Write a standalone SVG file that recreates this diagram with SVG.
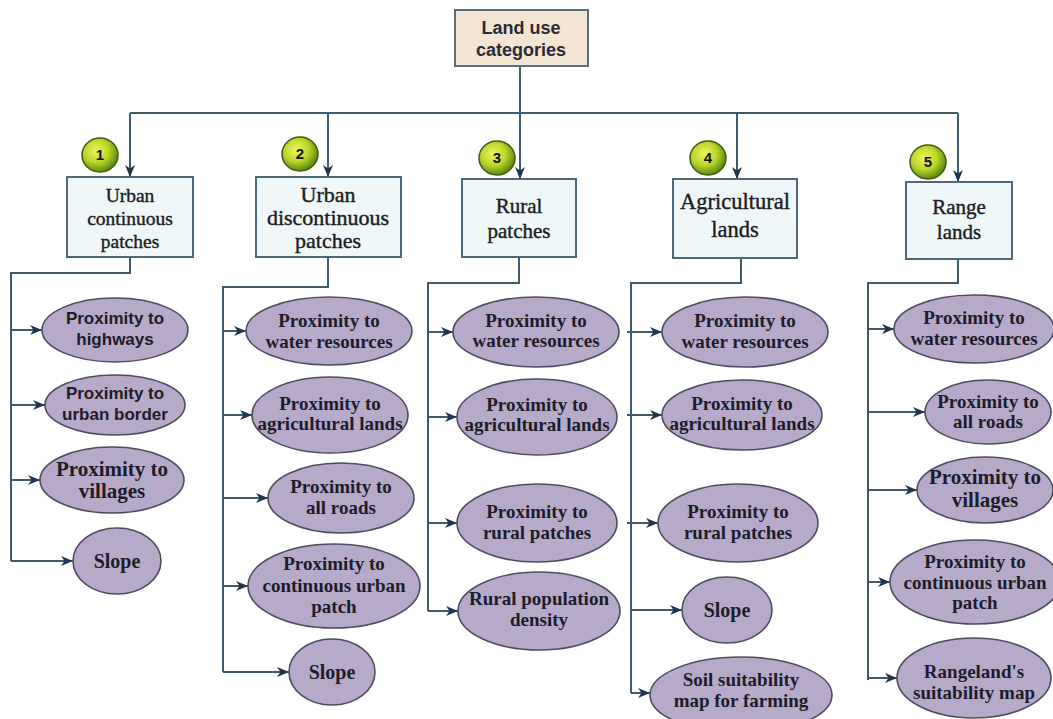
<svg xmlns="http://www.w3.org/2000/svg" width="1053" height="719" viewBox="0 0 1053 719">
<defs>
<marker id="ah" markerUnits="userSpaceOnUse" markerWidth="13" markerHeight="11" refX="12" refY="5" orient="auto">
<path d="M0,0 L12,5 L0,10 L3.5,5 Z" fill="#1e3550"/>
</marker>
<radialGradient id="gb" cx="0.4" cy="0.38" r="0.62">
<stop offset="0" stop-color="#eef55a"/>
<stop offset="0.55" stop-color="#bcd62a"/>
<stop offset="1" stop-color="#5e8a10"/>
</radialGradient>
</defs>
<style>
.box{fill:#eff7f9;stroke:#4e6878;stroke-width:2}
.root{fill:#f3e5d1;stroke:#5d6d7c;stroke-width:2}
.ell{fill:#b7a9c9;stroke:#4d4d60;stroke-width:1.6}
.con{fill:none;stroke:#3e5b6c;stroke-width:2}
.arr{fill:none;stroke:#3e5b6c;stroke-width:2;marker-end:url(#ah)}
.badge{fill:url(#gb);stroke:#3f5e12;stroke-width:1.5}
.bt{font-family:"Liberation Serif",serif;font-size:21px;fill:#1c1c22;stroke:#1c1c22;stroke-width:0.4;text-anchor:middle}
.et{font-family:"Liberation Serif",serif;font-size:19px;font-weight:bold;fill:#1c1c2a;text-anchor:middle}
.st{font-family:"Liberation Sans",Arial,sans-serif;font-size:17px;font-weight:bold;fill:#1c1c2a;text-anchor:middle}
.rt{font-family:"Liberation Sans",Arial,sans-serif;font-size:18px;font-weight:bold;fill:#2a2a3a;text-anchor:middle}
.nt{font-family:"Liberation Sans",Arial,sans-serif;font-size:15px;font-weight:bold;fill:#111;text-anchor:middle}
</style>
<g id="connectors">
<path class="con" d="M520,66 V113 M130,113 H958"/>
<path class="arr" d="M130,113 V177"/>
<path class="arr" d="M328,113 V177"/>
<path class="arr" d="M520,113 V179"/>
<path class="arr" d="M737,113 V179"/>
<path class="arr" d="M958,113 V182"/>
<path class="con" d="M130,257 V273 H11 V561"/>
<path class="arr" d="M11,330 H42"/>
<path class="arr" d="M11,405 H45"/>
<path class="arr" d="M11,480 H40"/>
<path class="arr" d="M11,561 H73"/>
<path class="con" d="M328,257 V287 H223 V672"/>
<path class="arr" d="M223,331 H246"/>
<path class="arr" d="M223,415 H252"/>
<path class="arr" d="M223,498 H268"/>
<path class="arr" d="M223,586 H248"/>
<path class="arr" d="M223,672 H289"/>
<path class="con" d="M519,257 V283 H428 V611"/>
<path class="arr" d="M428,332 H453"/>
<path class="arr" d="M428,417 H457"/>
<path class="arr" d="M428,523 H457"/>
<path class="arr" d="M428,611 H458"/>
<path class="con" d="M741,258 V283 H631 V693"/>
<path class="arr" d="M627,332 H662"/>
<path class="arr" d="M627,415 H662"/>
<path class="arr" d="M627,523 H658"/>
<path class="arr" d="M631,610 H682"/>
<path class="arr" d="M631,693 H650"/>
<path class="con" d="M958,259 V283 H868 V680"/>
<path class="arr" d="M868,329 H894"/>
<path class="arr" d="M868,412 H925"/>
<path class="arr" d="M868,490 H917"/>
<path class="arr" d="M868,582 H890"/>
<path class="arr" d="M868,678 H897"/>
</g>
<g id="root">
<rect class="root" x="455" y="10" width="133" height="56"/>
<text class="rt" x="521" y="34">Land use</text>
<text class="rt" x="521" y="56">categories</text>
</g>
<g id="cat1">
<rect class="box" x="67" y="177" width="126" height="80"/>
<text class="bt" style="font-size:19.5px" x="130" y="202">Urban</text>
<text class="bt" style="font-size:19.5px" x="130" y="225">continuous</text>
<text class="bt" style="font-size:19.5px" x="130" y="248">patches</text>
<ellipse class="badge" cx="100" cy="155" rx="18" ry="17"/>
<text class="nt" x="100" y="160">1</text>
</g>
<g id="cat2">
<rect class="box" x="256" y="177" width="145" height="80"/>
<text class="bt" style="font-size:22px" x="328" y="202">Urban</text>
<text class="bt" style="font-size:22px" x="328" y="225">discontinuous</text>
<text class="bt" style="font-size:22px" x="328" y="248">patches</text>
<ellipse class="badge" cx="300" cy="154" rx="18" ry="17"/>
<text class="nt" x="300" y="159">2</text>
</g>
<g id="cat3">
<rect class="box" x="462" y="179" width="114" height="78"/>
<text class="bt" x="519" y="213">Rural</text>
<text class="bt" x="519" y="238">patches</text>
<ellipse class="badge" cx="497" cy="158" rx="18" ry="17"/>
<text class="nt" x="497" y="163">3</text>
</g>
<g id="cat4">
<rect class="box" x="673" y="179" width="124" height="79"/>
<text class="bt" style="font-size:22.5px" x="735" y="209">Agricultural</text>
<text class="bt" style="font-size:22.5px" x="735" y="237">lands</text>
<ellipse class="badge" cx="708" cy="158" rx="18" ry="17"/>
<text class="nt" x="708" y="163">4</text>
</g>
<g id="cat5">
<rect class="box" x="906" y="182" width="106" height="77"/>
<text class="bt" x="959" y="214">Range</text>
<text class="bt" x="959" y="239">lands</text>
<ellipse class="badge" cx="928" cy="162" rx="18" ry="17"/>
<text class="nt" x="928" y="167">5</text>
</g>
<g id="c1-highways"><ellipse class="ell" cx="115" cy="330" rx="73" ry="32"/><text class="st" x="115" y="324">Proximity to</text><text class="st" x="115" y="345">highways</text></g>
<g id="c1-border"><ellipse class="ell" cx="115" cy="405" rx="70" ry="30"/><text class="st" x="115" y="399">Proximity to</text><text class="st" x="115" y="420">urban border</text></g>
<g id="c1-villages"><ellipse class="ell" cx="112" cy="480" rx="72" ry="33"/><text class="et" style="font-size:21px" x="112" y="476">Proximity to</text><text class="et" style="font-size:21px" x="112" y="498">villages</text></g>
<g id="c1-slope"><ellipse class="ell" cx="117" cy="561" rx="44" ry="33"/><text class="et" style="font-size:20px" x="117" y="568">Slope</text></g>
<g id="c2-water"><ellipse class="ell" cx="329" cy="331" rx="83" ry="34"/><text class="et" x="329" y="327">Proximity to</text><text class="et" x="329" y="348">water resources</text></g>
<g id="c2-agri"><ellipse class="ell" cx="330" cy="415" rx="78" ry="38"/><text class="et" x="330" y="410">Proximity to</text><text class="et" x="330" y="430">agricultural lands</text></g>
<g id="c2-roads"><ellipse class="ell" cx="341" cy="498" rx="73" ry="35"/><text class="et" x="341" y="493">Proximity to</text><text class="et" x="341" y="514">all roads</text></g>
<g id="c2-urban"><ellipse class="ell" cx="334" cy="586" rx="86" ry="42"/><text class="et" x="334" y="570">Proximity to</text><text class="et" x="334" y="592">continuous urban</text><text class="et" x="334" y="613">patch</text></g>
<g id="c2-slope"><ellipse class="ell" cx="332" cy="672" rx="43" ry="33"/><text class="et" style="font-size:20px" x="332" y="679">Slope</text></g>
<g id="c3-water"><ellipse class="ell" cx="536" cy="332" rx="83" ry="35"/><text class="et" x="536" y="327">Proximity to</text><text class="et" x="536" y="347">water resources</text></g>
<g id="c3-agri"><ellipse class="ell" cx="537" cy="417" rx="80" ry="38"/><text class="et" x="537" y="411">Proximity to</text><text class="et" x="537" y="431">agricultural lands</text></g>
<g id="c3-rural"><ellipse class="ell" cx="537" cy="523" rx="80" ry="39"/><text class="et" x="537" y="518">Proximity to</text><text class="et" x="537" y="539">rural patches</text></g>
<g id="c3-density"><ellipse class="ell" cx="539" cy="611" rx="81" ry="39"/><text class="et" x="539" y="605">Rural population</text><text class="et" x="539" y="626">density</text></g>
<g id="c4-water"><ellipse class="ell" cx="745" cy="332" rx="83" ry="35"/><text class="et" x="745" y="327">Proximity to</text><text class="et" x="745" y="348">water resources</text></g>
<g id="c4-agri"><ellipse class="ell" cx="742" cy="415" rx="80" ry="35"/><text class="et" x="742" y="410">Proximity to</text><text class="et" x="742" y="430">agricultural lands</text></g>
<g id="c4-rural"><ellipse class="ell" cx="738" cy="523" rx="80" ry="39"/><text class="et" x="738" y="518">Proximity to</text><text class="et" x="738" y="539">rural patches</text></g>
<g id="c4-slope"><ellipse class="ell" cx="727" cy="610" rx="45" ry="33"/><text class="et" style="font-size:20px" x="727" y="617">Slope</text></g>
<g id="c4-soil"><ellipse class="ell" cx="741" cy="695" rx="91" ry="38"/><text class="et" x="741" y="686">Soil suitability</text><text class="et" x="741" y="707">map for farming</text></g>
<g id="c5-water"><ellipse class="ell" cx="974" cy="329" rx="80" ry="34"/><text class="et" x="974" y="324">Proximity to</text><text class="et" x="974" y="345">water resources</text></g>
<g id="c5-roads"><ellipse class="ell" cx="988" cy="412" rx="63" ry="32"/><text class="et" x="988" y="408">Proximity to</text><text class="et" x="988" y="428">all roads</text></g>
<g id="c5-villages"><ellipse class="ell" cx="985" cy="490" rx="68" ry="33"/><text class="et" style="font-size:21px" x="985" y="484">Proximity to</text><text class="et" style="font-size:21px" x="985" y="507">villages</text></g>
<g id="c5-urban"><ellipse class="ell" cx="975" cy="582" rx="85" ry="42"/><text class="et" x="975" y="568">Proximity to</text><text class="et" x="975" y="589">continuous urban</text><text class="et" x="975" y="609">patch</text></g>
<g id="c5-suit"><ellipse class="ell" cx="974" cy="678" rx="77" ry="40"/><text class="et" x="974" y="678">Rangeland's</text><text class="et" x="974" y="699">suitability map</text></g>
</svg>
